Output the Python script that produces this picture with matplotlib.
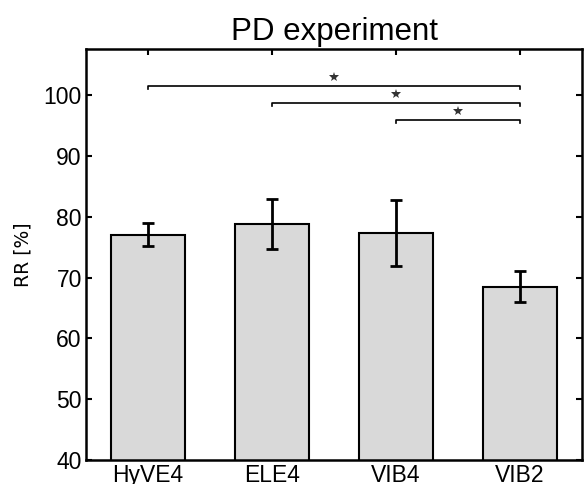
import matplotlib.pyplot as plt
import numpy as np

plt.rcParams['font.family'] = ['Liberation Sans', 'DejaVu Sans']

# Datos
grupos = ['HyVE4', 'ELE4', 'VIB4', 'VIB2']
rr_media = [77.1, 78.8, 77.4, 68.5]
rr_error = [1.85, 4.1, 5.4, 2.55]

# Comparaciones significativas (indice inicio, indice fin, altura)
comp_ini = [0, 1, 2]
comp_fin = [3, 3, 3]
comp_y = [101.6, 98.8, 96.0]

fig = plt.figure(figsize=(5.85, 4.84), dpi=100)
ax = fig.add_axes([0.147, 0.0496, 0.848, 0.850])

x = np.arange(1, len(grupos) + 1)
ax.bar(x, rr_media, width=0.6, color='#d9d9d9', edgecolor='black', linewidth=1.5, zorder=2)
ax.errorbar(x, rr_media, yerr=rr_error, fmt='none', ecolor='black',
            elinewidth=2, capsize=4, capthick=2, zorder=3)

# Lineas de significancia
for i0, i1, yy in zip(comp_ini, comp_fin, comp_y):
    x0, x1 = x[i0], x[i1]
    ax.plot([x0, x0, x1, x1], [yy - 0.6, yy, yy, yy - 0.6], color='black', linewidth=1.2, zorder=3)
    ax.plot((x0 + x1) / 2, yy + 1.4, marker='*', markersize=7, color='#333333',
            markeredgewidth=0, zorder=3)

ax.set_xlim(0.5, 4.5)
ax.set_ylim(40, 107.7)
ax.set_xticks(x)
ax.set_xticklabels(grupos)
ax.set_yticks(np.arange(40, 101, 10))
ax.tick_params(direction='in', length=4, width=1.5, top=True, right=True, labelsize=16.5, pad=3)
for s in ax.spines.values():
    s.set_linewidth(1.8)

ax.set_ylabel('RR [%]', fontsize=13.5, family='DejaVu Sans', labelpad=8)
ax.set_title('PD experiment', fontsize=22.5, pad=6)

fig.savefig('out.png', dpi=100)
